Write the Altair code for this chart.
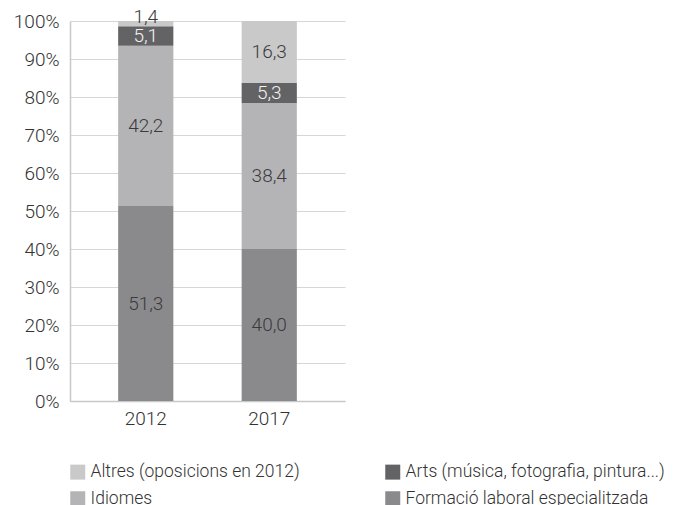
import altair as alt
import pandas as pd

years = ["2012", "2012", "2012", "2012", "2017", "2017", "2017", "2017"]
categories = [
    "Formació laboral especialitzada", "Idiomes", "Arts (música, fotografia, pintura...)", "Altres (oposicions en 2012)",
    "Formació laboral especialitzada", "Idiomes", "Arts (música, fotografia, pintura...)", "Altres (oposicions en 2012)",
]
values = [51.3, 42.2, 5.1, 1.4, 40.0, 38.4, 5.3, 16.3]
stack_order = [0, 1, 2, 3, 0, 1, 2, 3]

legend_order = [
    "Altres (oposicions en 2012)",
    "Idiomes",
    "Arts (música, fotografia, pintura...)",
    "Formació laboral especialitzada",
]
colors = ["#c9c9ca", "#b4b4b7", "#636366", "#8a8a8d"]
dark_cat = "Arts (música, fotografia, pintura...)"

df = pd.DataFrame({"year": years, "cat": categories, "value": values, "ord": stack_order})

FONT = "Roboto"
FS = 19
LFS = 17.5

base = alt.Chart(df).transform_stack(
    stack="value", groupby=["year"], as_=["v0", "v1"], sort=[alt.SortField("ord", order="ascending")]
).transform_calculate(
    mid="(datum.v0 + datum.v1) / 2",
    label="replace(format(datum.value, '.1f'), '.', ',')",
)

x_axis = alt.Axis(labelAngle=0, ticks=False, domainColor="#c8c8c8", labelFontSize=FS,
                  labelColor="#333333", labelPadding=8, labelFont=FONT, labelFontWeight=300)
x_scale = alt.Scale(paddingInner=0.553, paddingOuter=0.39)
y_axis = alt.Axis(values=list(range(0, 101, 10)), labelExpr="datum.value + '%'",
                  ticks=False, domainColor="#c8c8c8", gridColor="#d6d6d6",
                  labelFontSize=FS, labelColor="#333333", labelPadding=11,
                  labelOverlap=False, labelFont=FONT, labelFontWeight=300)
y_scale = alt.Scale(domain=[0, 100], nice=False)

bars = base.mark_bar().encode(
    x=alt.X("year:N", title=None, scale=x_scale, axis=x_axis),
    y=alt.Y("v0:Q", title=None, scale=y_scale, axis=y_axis),
    y2="v1:Q",
    color=alt.Color("cat:N", scale=alt.Scale(domain=legend_order, range=colors),
                    legend=alt.Legend(title=None, orient="none", legendX=-1, legendY=442,
                                      columns=2, columnPadding=84, rowPadding=8,
                                      symbolType="square", symbolSize=225, symbolStrokeWidth=0,
                                      labelFontSize=LFS, labelColor="#333333", labelFont=FONT,
                                      labelFontWeight=300, labelLimit=400)),
)

def text_layer(filter_expr, color, dy=0):
    return base.transform_filter(filter_expr).mark_text(
        fontSize=FS, font=FONT, fontWeight=300, baseline="middle", dy=dy, color=color
    ).encode(
        x=alt.X("year:N", title=None, scale=x_scale, axis=x_axis),
        y=alt.Y("mid:Q", title=None, scale=y_scale, axis=y_axis),
        text="label:N",
    )

labels_main = text_layer(f"datum.value >= 3 && datum.cat != '{dark_cat}'", "#3a3a3a")
labels_dark = text_layer(f"datum.cat == '{dark_cat}'", "#f2f2f2")
labels_small = text_layer("datum.value < 3", "#3a3a3a", dy=-7)

chart = alt.layer(bars, labels_main, labels_dark, labels_small).properties(
    width=275, height=380,
    autosize=alt.AutoSizeParams(type="none"),
    padding={"left": 62, "top": 13, "right": 330, "bottom": 104},
).configure_view(stroke=None).configure_axis(domainWidth=1.5)

chart.save("out.html", embed_options={"renderer": "svg", "actions": False})
